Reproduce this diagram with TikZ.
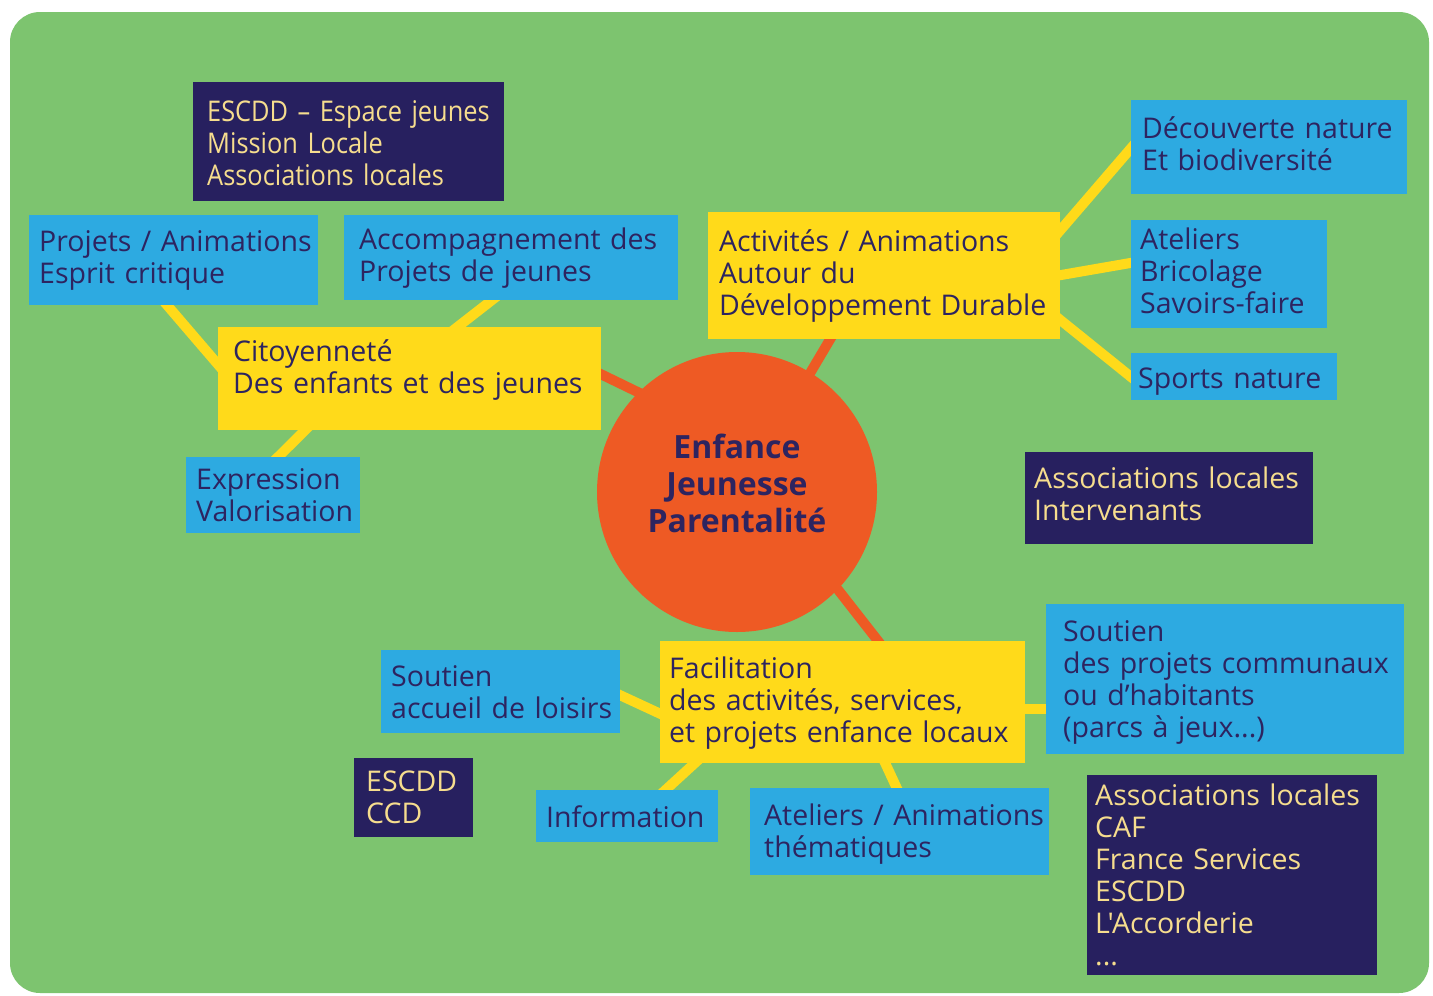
\documentclass[tikz,border=0pt]{standalone}
\usepackage{fontspec}
\newfontfamily\mainf{Open Sans}
\newfontfamily\condfont[FakeStretch=0.89]{Open Sans}
\usetikzlibrary{calc}
\definecolor{cgreen}{HTML}{7DC46F}
\definecolor{cnavy}{HTML}{27205F}
\definecolor{ctext}{HTML}{2D2460}
\definecolor{cpale}{HTML}{F6DD8E}
\definecolor{cblue}{HTML}{2DAAE1}
\definecolor{cyellow}{HTML}{FFDA1A}
\definecolor{corange}{HTML}{EE5A24}
\newcommand{\boxlines}[2][8pt]{\raisebox{0pt}[\dimexpr\height+#1\relax][\depth]{\begin{tabular}{@{}l@{}}#2\end{tabular}}}
\pgfdeclarelayer{background}
\pgfsetlayers{background,main}
\tikzset{
  base/.style={rectangle, anchor=north west, align=left, inner ysep=0pt,
    font=\mainf\fontsize{28.5}{32}\selectfont},
  bluebox/.style={base, fill=cblue, text=ctext},
  yellowbox/.style={base, fill=cyellow, text=ctext},
  navybox/.style={base, fill=cnavy, text=cpale},
  yline/.style={draw=cyellow, line width=10pt},
  oline/.style={draw=corange, line width=10pt},
}
\begin{document}
\begin{tikzpicture}[x=1pt,y=-1pt]
\useasboundingbox (0,0) rectangle (1433,996);

% central circle
\node[circle, fill=corange, minimum size=280pt, inner sep=0pt, text=ctext, align=center,
  font=\mainf\bfseries\fontsize{32}{37}\selectfont] (circ) at (737,492)
  {\raisebox{0pt}[\height][\dimexpr\depth+8pt\relax]{\begin{tabular}{@{}c@{}}Enfance\\Jeunesse\\Parentalité\end{tabular}}};

% yellow theme boxes
\node[yellowbox, inner xsep=15pt, text width=353pt, minimum height=103pt, text depth=49pt] (cit) at (218,327)
  {\boxlines{Citoyenneté\\Des enfants et des jeunes}};
\node[yellowbox, inner xsep=11pt, text width=330pt, minimum height=127pt] (act) at (708,212)
  {\boxlines[2pt]{Activités / Animations\\Autour du\\Développement Durable}};
\node[yellowbox, inner xsep=9pt, text width=347pt, minimum height=122pt] (fac) at (660,641)
  {\boxlines[4pt]{Facilitation\\des activités, services,\\et projets enfance locaux}};

% blue boxes
\node[bluebox, inner xsep=10pt, text width=269pt, minimum height=90pt] (proj) at (29,215)
  {\boxlines[2pt]{Projets / Animations\\Esprit critique}};
\node[bluebox, inner xsep=15pt, text width=304pt, minimum height=85pt] (acc) at (344,215)
  {\boxlines[2pt]{Accompagnement des\\Projets de jeunes}};
\node[bluebox, inner xsep=10pt, text width=154pt, minimum height=76pt] (expr) at (186,457)
  {\boxlines{Expression\\Valorisation}};
\node[bluebox, inner xsep=11pt, text width=254pt, minimum height=94pt] (dec) at (1131,100)
  {\boxlines[2pt]{Découverte nature\\Et biodiversité}};
\node[bluebox, inner xsep=9pt, text width=178pt, minimum height=108pt] (ate) at (1131,220)
  {\boxlines[2pt]{Ateliers\\Bricolage\\Savoirs-faire}};
\node[bluebox, inner xsep=7pt, text width=192pt, minimum height=47pt, text height=33pt] (spo) at (1131,353)
  {\boxlines{Sports nature}};
\node[bluebox, inner xsep=17pt, text width=324pt, minimum height=150pt, text height=79pt] (sp2) at (1046,604)
  {\boxlines{Soutien\\des projets communaux\\ou d’habitants\\(parcs à jeux...)}};
\node[bluebox, inner xsep=10pt, text width=219pt, minimum height=83pt] (sal) at (381,650)
  {\boxlines{Soutien\\accueil de loisirs}};
\node[bluebox, inner xsep=10pt, text width=162pt, minimum height=52pt] (inf) at (536,790)
  {\boxlines[10pt]{Information}};
\node[bluebox, inner xsep=14pt, text width=271pt, minimum height=87pt] (atth) at (750,788)
  {\boxlines[6pt]{Ateliers / Animations\\thématiques}};

% navy boxes (partners)
\node[navybox, inner xsep=14pt, text width=283pt, minimum height=119pt,
  font=\condfont\fontsize{28.5}{32}\selectfont] (esc) at (193,82)
  {\boxlines[10pt]{ESCDD – Espace jeunes\\Mission Locale\\Associations locales}};
\node[navybox, inner xsep=9pt, text width=270pt, minimum height=92pt, text depth=33pt] (asso) at (1025,452)
  {\boxlines{Associations locales\\Intervenants}};
\node[navybox, inner xsep=12pt, text width=95pt, minimum height=79pt] (ccd) at (354,758)
  {\boxlines[6pt]{ESCDD\\CCD}};
\node[navybox, inner xsep=8pt, text width=274pt, minimum height=197pt] (caf) at (1087,775)
  {\boxlines[8pt]{Associations locales\\CAF\\France Services\\ESCDD\\L'Accorderie\\...}};

\begin{pgfonlayer}{background}
  \fill[white] (0,0) rectangle (1433,996);
  \fill[cgreen, rounded corners=30pt] (10,12) rectangle (1429,993);
  % yellow connectors
  \draw[yline] ($(proj.south west)+(134,-5)$) -- ($(cit.north west)+(9,48)$);
  \draw[yline] ($(acc.south west)+(154,-5)$) -- ($(cit.north west)+(233,5)$);
  \draw[yline] ($(cit.south west)+(92,-5)$) -- ($(expr.north west)+(87,5)$);
  \draw[yline] ($(act.north east)+(-5,24)$) -- ($(dec.south west)+(5,-52)$);
  \draw[yline] ($(act.north east)+(-5,64)$) -- ($(ate.north west)+(5,42)$);
  \draw[yline] ($(act.north east)+(-5,104)$) -- ($(spo.north west)+(5,28)$);
  \draw[yline] ($(sal.north east)+(-5,43)$) -- ($(fac.north west)+(5,75)$);
  \draw[yline] ($(fac.north east)+(-5,68)$) -- ($(sp2.north west)+(5,105)$);
  \draw[yline] ($(fac.south west)+(40,-5)$) -- ($(inf.north west)+(124,5)$);
  \draw[yline] ($(fac.south west)+(223,-5)$) -- ($(atth.north west)+(150,7)$);
  % orange connectors
  \draw[oline] ($(cit.north east)+(-5,45)$) -- ($(circ.center)+(-87,-94)$);
  \draw[oline] ($(act.south west)+(125,-5)$) -- ($(circ.center)+(69,-112)$);
  \draw[oline] ($(circ.center)+(95,90)$) -- ($(fac.north west)+(222,5)$);
\end{pgfonlayer}
\end{tikzpicture}
\end{document}
